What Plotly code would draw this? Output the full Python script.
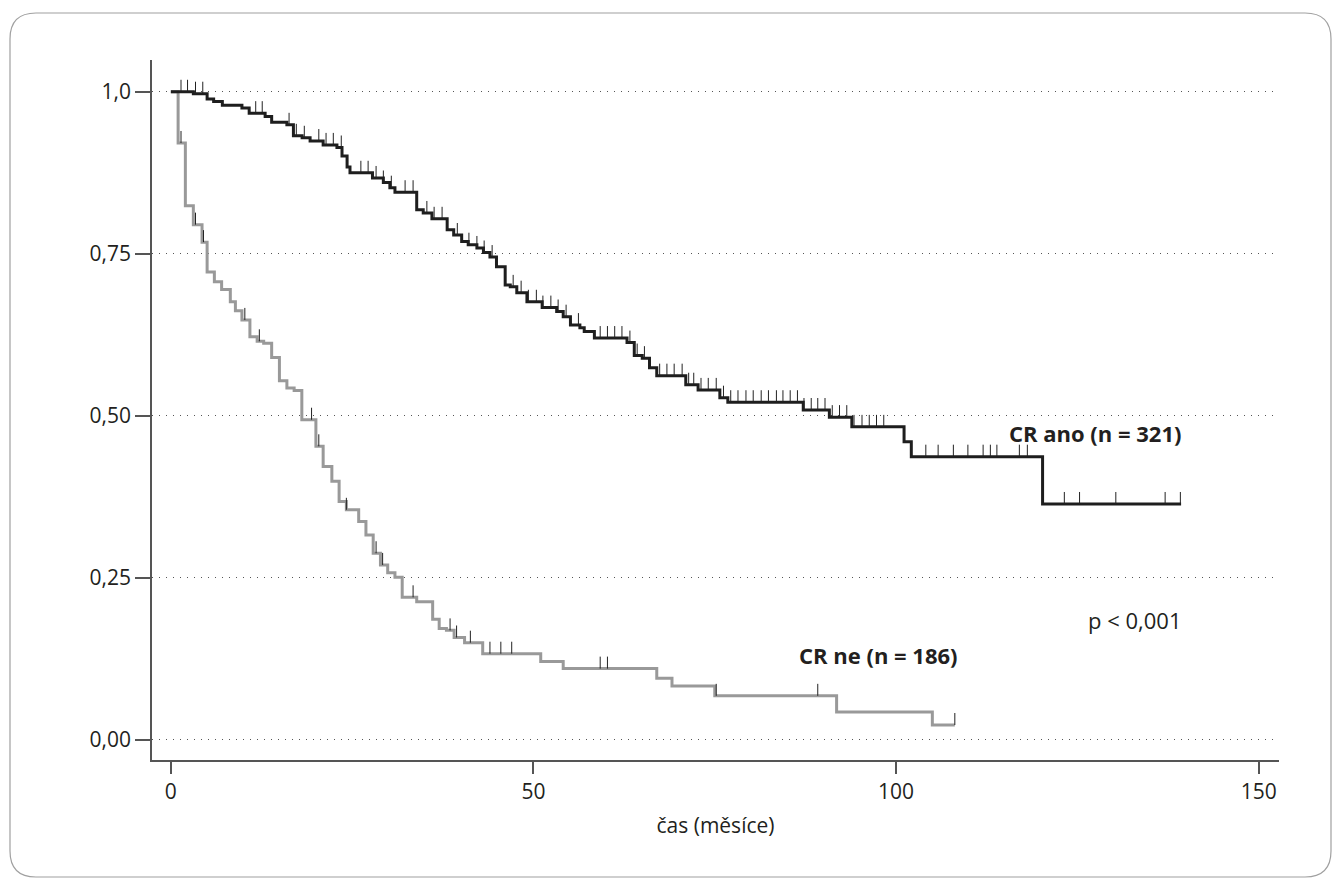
import plotly.graph_objects as go
import numpy as np

# ---- data ----
ano_t = [0, 3.1, 5.0, 5.9, 7.1, 9.8, 10.8, 13.0, 13.9, 16.0, 16.9, 18.1, 19.2, 21.0, 22.9, 23.6, 24.3, 24.7,
         27.8, 29.3, 30.2, 30.9, 33.9, 34.8, 36.0, 38.1, 39.0, 40.1, 41.0, 42.2, 43.1, 44.0, 44.9, 46.1,
         46.8, 47.7, 49.1, 51.2, 53.2, 54.1, 55.1, 56.4, 57.0, 58.4, 62.9, 63.9, 65.0, 66.0, 67.0, 71.0,
         72.7, 75.7, 76.8, 87.2, 90.8, 93.9, 101.1, 102.1, 120.2, 139.3]
ano_s = [1.0, 0.997, 0.989, 0.985, 0.979, 0.975, 0.967, 0.962, 0.953, 0.949, 0.932, 0.929, 0.924, 0.918, 0.914, 0.901, 0.884, 0.875,
         0.867, 0.860, 0.852, 0.845, 0.818, 0.813, 0.804, 0.787, 0.779, 0.769, 0.764, 0.759, 0.752, 0.745, 0.730, 0.702,
         0.699, 0.690, 0.676, 0.667, 0.661, 0.653, 0.640, 0.636, 0.630, 0.620, 0.613, 0.593, 0.589, 0.574, 0.562, 0.548,
         0.540, 0.528, 0.521, 0.509, 0.498, 0.483, 0.460, 0.437, 0.364, 0.364]
ano_cens = [1.4, 2.3, 3.4, 4.4, 11.7, 12.6, 16.3, 17.3, 18.4, 20.4, 21.4, 22.4, 23.5, 26.2, 27.2, 28.3, 29.3, 30.4,
            32.3, 33.4, 35.3, 36.3, 37.4, 39.5, 41.1, 42.2, 43.2, 44.3, 47.2, 48.3, 49.3, 50.4, 51.3, 52.4, 53.4,
            54.5, 56.2, 59.2, 60.2, 61.2, 62.2, 63.3, 64.3, 65.3, 67.4, 68.4, 69.4, 70.5, 71.4, 72.1, 73.1, 74.1,
            75.2, 76.2, 77.2, 78.2, 79.3, 80.3, 81.4, 82.4, 83.5, 84.4, 85.4, 86.4, 87.3, 88.3, 89.2, 90.2, 91.2,
            92.2, 93.2, 94.2, 95.3, 96.3, 97.3, 98.3, 104.1, 105.8, 107.9, 109.9, 112.0, 113.0, 113.9, 117.0,
            118.1, 123.2, 125.3, 130.3, 137.1, 139.2]

ne_t = [0, 1.0, 2.0, 3.1, 4.3, 5.0, 6.0, 7.0, 8.2, 8.9, 9.8, 10.9, 11.9, 12.8, 13.9, 14.97, 16.0, 17.0, 18.06,
        20.0, 21.0, 22.2, 23.2, 24.2, 25.9, 26.9, 27.9, 28.9, 29.9, 30.9, 31.9, 33.9, 36.1, 37.0, 38.0, 39.06,
        40.5, 43.0, 51.0, 54.1, 67.0, 69.1, 75.0, 91.8, 105.0, 108.1]
ne_s = [1.0, 0.921, 0.824, 0.795, 0.768, 0.722, 0.707, 0.695, 0.676, 0.662, 0.648, 0.622, 0.615, 0.612, 0.590, 0.554, 0.543, 0.539, 0.494,
        0.453, 0.422, 0.399, 0.368, 0.355, 0.337, 0.316, 0.288, 0.270, 0.258, 0.251, 0.220, 0.213, 0.186, 0.172, 0.169, 0.158,
        0.150, 0.133, 0.121, 0.110, 0.095, 0.083, 0.068, 0.043, 0.023, 0.023]
ne_cens = [1.4, 3.4, 4.5, 10.2, 12.2, 19.4, 20.4, 24.2, 28.3, 29.2, 33.4, 38.5, 39.4, 41.3, 44.0, 45.5, 47.0,
           59.2, 60.2, 75.2, 89.2, 108.1]

y_ticks = [0, 0.25, 0.5, 0.75, 1.0]
y_ticktext = ["0,00", "0,25", "0,50", "0,75", "1,0"]
x_ticks = [0, 50, 100, 150]

TXT = "#231f20"
FONT = "Open Sans"


def surv_at(times, vals, t):
    idx = np.searchsorted(np.array(times), t, side="right") - 1
    return vals[max(idx, 0)]


fig = go.Figure()

tick_h = 0.0185


def add_curve(times, vals, color, width):
    fig.add_trace(go.Scatter(x=times, y=vals, mode="lines", line=dict(color=color, width=width, shape="hv"),
                             hoverinfo="skip", showlegend=False))


def add_cens(times, vals, cens):
    cy = [surv_at(times, vals, c) for c in cens]
    fig.add_trace(go.Scatter(x=cens, y=cy, mode="markers",
                             marker=dict(size=1, color="rgba(0,0,0,0)"),
                             error_y=dict(type="data", symmetric=False, array=[tick_h] * len(cens),
                                          arrayminus=[0] * len(cens), width=0, thickness=1, color="#222"),
                             hoverinfo="skip", showlegend=False))


add_curve(ne_t, ne_s, "#999999", 3)
add_curve(ano_t, ano_s, "#1e1e1e", 3)
add_cens(ne_t, ne_s, ne_cens)
add_cens(ano_t, ano_s, ano_cens)

fig.add_annotation(x=139.6, y=0.474, text="<b>CR ano (n = 321)</b>", showarrow=False, xanchor="right",
                   yanchor="middle", font=dict(family=FONT, size=22, color=TXT))
fig.add_annotation(x=108.8, y=0.131, text="<b>CR ne (n = 186)</b>", showarrow=False, xanchor="right",
                   yanchor="middle", font=dict(family=FONT, size=22, color=TXT))
fig.add_annotation(x=139.6, y=0.185, text="p &lt; 0,001", showarrow=False, xanchor="right",
                   yanchor="middle", font=dict(family=FONT, size=22, color=TXT))

# page is offset by the 8px body margin; work in page pixel coordinates
OFF = 8
W, H = 1342 - 2 * OFF, 889 - 2 * OFF
L, R, T, B = 152, 1279, 60, 760  # plot area in page pixels


def px(xp):
    return (xp - L) / (R - L)


def py(yp):
    return (B - yp) / (B - T)


x0, x1, y0, y1, r = 10, 1331, 13, 877, 26
path = (f"M {px(x0 + r)},{py(y0)} L {px(x1 - r)},{py(y0)} Q {px(x1)},{py(y0)} {px(x1)},{py(y0 + r)} "
        f"L {px(x1)},{py(y1 - r)} Q {px(x1)},{py(y1)} {px(x1 - r)},{py(y1)} "
        f"L {px(x0 + r)},{py(y1)} Q {px(x0)},{py(y1)} {px(x0)},{py(y1 - r)} "
        f"L {px(x0)},{py(y0 + r)} Q {px(x0)},{py(y0)} {px(x0 + r)},{py(y0)} Z")
fig.add_shape(type="path", path=path, xref="paper", yref="paper", line=dict(color="#a0a0a0", width=1.2), layer="below")

fig.update_layout(
    width=W, height=H,
    margin=dict(l=L - OFF, r=W - (R - OFF), t=T - OFF, b=H - (B - OFF)),
    paper_bgcolor="white", plot_bgcolor="white",
    font=dict(family=FONT, size=21, color=TXT),
    xaxis=dict(range=[-2.6, 152.8], tickvals=x_ticks, showline=True, linecolor="#555", linewidth=1.5,
               ticks="outside", ticklen=12, tickcolor="#555", tickwidth=1.5, showgrid=False, zeroline=False,
               tickfont=dict(size=21, color=TXT),
               title=dict(text="čas (měsíce)", font=dict(size=21, color=TXT), standoff=14)),
    yaxis=dict(range=[-0.031, 1.049], tickvals=y_ticks, ticktext=y_ticktext, showline=True, linecolor="#555",
               linewidth=1.5, ticks="outside", ticklen=15, tickcolor="#555", tickwidth=1.5, showgrid=True,
               gridcolor="#555", gridwidth=1, griddash="1px,6px", zeroline=False, tickfont=dict(size=21, color=TXT)),
)

fig.write_html("out.html")
